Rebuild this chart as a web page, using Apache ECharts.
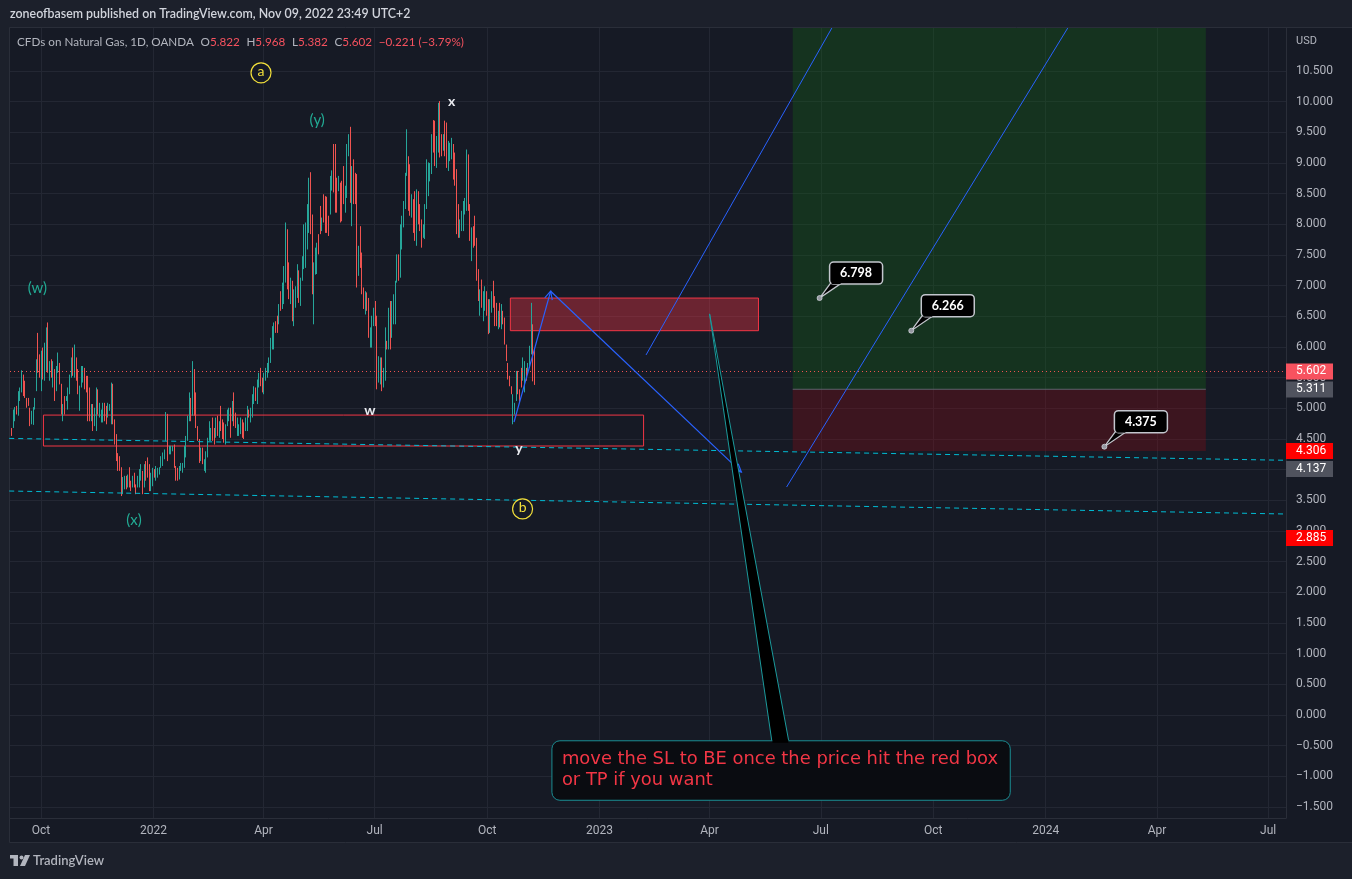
<!DOCTYPE html>
<html>
<head>
<meta charset="utf-8">
<script src="https://cdn.jsdelivr.net/npm/echarts@6.0.0/dist/echarts.min.js"></script>
<style>
html,body{margin:0;padding:0;background:#1c202b;}
#chart{width:1352px;height:879px;}
</style>
</head>
<body>
<div id="chart"></div>
<script>
// ---------- DATA ----------
// daily bars [open, close, low, high]
const ohlc = [
[4.66,4.57,4.55,4.68],[4.68,4.96,4.68,4.98],[4.82,4.98,4.79,5.02],[5.02,4.92,4.90,5.04],[4.90,5.25,4.88,5.28],
[5.15,5.30,5.12,5.34],[5.28,5.60,5.26,5.62],[5.53,5.22,5.20,5.55],[5.42,5.19,5.17,5.45],[5.15,5.03,5.01,5.17],
[5.15,5.06,5.04,5.17],[5.00,4.73,4.71,5.01],[4.76,4.94,4.74,4.96],[4.75,5.00,4.73,5.02],[4.99,5.15,4.98,5.17],
[5.28,5.78,5.28,5.80],[6.20,5.60,5.58,6.23],[5.86,5.52,5.50,5.88],[5.30,5.92,5.28,5.94],[5.97,5.49,5.47,5.99],
[5.47,6.05,5.45,6.07],[5.62,6.28,5.61,6.32],[6.38,5.60,5.58,6.40],[5.47,5.75,5.45,5.77],[5.78,5.52,5.50,5.80],
[5.36,5.75,5.34,5.77],[5.63,5.14,5.12,5.64],[5.30,5.67,5.28,5.69],[5.60,5.89,5.58,5.91],[5.72,5.41,5.39,5.74],
[5.39,4.92,4.90,5.40],[4.81,5.05,4.79,5.07],[5.19,4.92,4.90,5.20],[5.13,5.18,5.12,5.20],[5.00,5.32,4.98,5.34],
[5.25,5.53,5.23,5.55],[5.52,5.81,5.50,5.83],[5.97,5.55,5.53,5.99],[5.52,6.02,5.50,6.04],[5.81,5.47,5.45,5.83],
[5.62,5.25,5.23,5.64],[4.98,5.34,4.96,5.37],[5.36,5.67,5.34,5.69],[5.45,5.67,5.42,5.69],[5.64,5.33,5.31,5.66],
[5.51,5.27,5.26,5.53],[5.51,4.81,4.79,5.53],[5.32,4.81,4.79,5.34],[4.81,5.05,4.79,5.07],[5.05,4.65,4.63,5.07],
[4.73,4.99,4.71,5.01],[4.65,5.32,4.63,5.34],[5.30,4.92,4.90,5.31],[4.87,5.07,4.85,5.09],[4.79,4.96,4.77,4.98],
[4.79,5.07,4.77,5.09],[5.07,4.81,4.79,5.09],[5.02,4.76,4.74,5.04],[4.87,5.07,4.85,5.09],[4.97,5.05,4.96,5.07],
[4.76,5.40,4.74,5.42],[5.37,4.76,4.74,5.40],[4.80,4.43,4.41,4.82],[4.56,4.16,4.14,4.58],[4.25,4.00,3.98,4.27],
[4.20,4.00,3.98,4.22],[4.02,3.59,3.57,4.04],[3.62,3.86,3.60,3.88],[3.70,3.88,3.68,3.90],[3.88,3.70,3.68,3.90],
[3.73,3.90,3.71,3.92],[4.02,3.73,3.71,4.04],[3.81,3.67,3.65,3.82],[3.73,3.88,3.71,3.90],[3.93,3.73,3.71,3.95],
[3.75,3.62,3.60,3.76],[3.73,3.88,3.71,3.90],[3.74,3.99,3.71,4.01],[3.84,4.07,3.82,4.09],[3.97,3.62,3.60,3.98],
[3.74,4.07,3.71,4.09],[4.12,3.84,3.82,4.14],[4.18,3.89,3.87,4.20],[4.07,3.67,3.65,4.09],[3.67,3.93,3.65,3.95],
[3.75,4.01,3.73,4.03],[4.00,3.88,3.87,4.01],[3.84,4.04,3.82,4.06],[3.89,4.01,3.87,4.03],[3.93,4.02,3.92,4.04],
[4.04,4.20,4.03,4.22],[4.08,4.26,4.06,4.28],[4.18,4.31,4.17,4.33],[4.49,4.92,4.47,4.94],[4.89,4.16,4.14,4.91],
[4.26,4.37,4.25,4.39],[4.27,4.37,4.25,4.39],[4.31,4.37,4.30,4.39],[4.40,4.05,4.03,4.41],[4.05,3.84,3.82,4.06],
[4.02,3.84,3.82,4.03],[3.85,4.04,3.84,4.06],[4.00,4.09,3.98,4.11],[3.97,4.09,3.95,4.11],[4.04,4.37,4.03,4.39],
[4.22,4.53,4.20,4.55],[4.49,4.86,4.47,4.88],[4.81,5.24,4.79,5.26],[5.15,4.81,4.79,5.17],[4.90,5.75,4.88,5.77],
[5.62,4.90,4.88,5.64],[5.24,4.70,4.68,5.26],[4.70,4.49,4.47,4.71],[4.49,4.13,4.11,4.50],[4.15,4.34,4.14,4.36],
[4.34,4.10,4.09,4.36],[4.00,4.15,3.98,4.17],[3.97,4.28,3.95,4.30],[4.22,4.50,4.20,4.52],[4.49,4.77,4.47,4.79],
[4.50,4.66,4.47,4.68],[4.83,4.49,4.47,4.85],[4.66,4.43,4.41,4.68],[4.55,4.83,4.52,4.85],
[4.86,4.57,4.55,4.88],[4.55,4.77,4.52,4.79],[4.95,4.65,4.63,5.04],[4.80,4.52,4.50,4.82],[4.75,4.46,4.44,4.77],
[4.43,4.72,4.41,4.74],[4.72,4.96,4.71,4.98],[4.80,4.99,4.79,5.01],[4.99,4.54,4.52,5.01],[4.80,5.10,4.79,5.12],
[5.24,4.73,4.71,5.26],[4.91,4.70,4.68,4.93],[4.57,4.83,4.55,4.85],[4.57,4.72,4.55,4.74],[4.60,4.83,4.58,4.85],
[4.80,4.54,4.52,4.82],[4.75,4.52,4.50,4.77],[4.65,4.83,4.63,4.85],[4.65,5.02,4.63,5.04],[4.97,4.86,4.85,4.98],
[4.79,4.99,4.77,5.01],[4.86,5.21,4.85,5.23],[5.09,5.34,5.07,5.36],[5.32,5.14,5.12,5.34],[5.09,5.45,5.07,5.47],
[5.36,5.56,5.34,5.58],[5.64,5.38,5.36,5.66],[5.48,5.28,5.26,5.50],[5.25,5.56,5.23,5.58],[5.47,5.64,5.45,5.66],
[5.52,5.72,5.50,5.74],[5.60,5.81,5.58,5.83],[5.76,6.13,5.74,6.15],[5.98,6.32,5.96,6.34],[6.00,6.38,5.96,6.40],
[6.40,6.25,6.23,6.42],[6.48,6.25,6.23,6.51],[6.39,6.68,6.37,6.70],[6.89,6.61,6.59,6.91],[6.64,7.03,6.62,7.05],
[6.72,7.30,6.70,7.32],[7.07,8.00,7.05,8.03],[7.89,6.97,6.94,7.92],[7.35,6.80,6.78,7.38],[6.72,7.11,6.70,7.13],
[7.05,6.45,6.42,7.08],[6.37,6.91,6.34,6.94],[6.67,6.97,6.64,6.99],[6.83,7.33,6.80,7.35],[7.23,6.75,6.72,7.25],
[6.69,7.11,6.67,7.13],[7.10,7.46,7.08,7.48],[7.29,7.97,7.27,8.00],[7.35,8.00,7.29,8.03],[7.60,8.31,7.59,8.33],
[7.88,8.74,7.86,8.76],[8.82,7.86,7.84,8.85],[8.14,6.88,6.86,8.16],[6.40,7.35,6.37,7.38],[7.19,7.60,7.18,7.62],
[7.20,7.68,7.19,7.70],[7.82,7.53,7.51,7.84],[8.28,7.86,7.84,8.30],[7.90,8.09,7.89,8.11],[8.47,8.05,8.03,8.49],
[8.44,7.88,7.86,8.46],
[8.43,7.88,7.86,8.45],[8.12,7.83,7.81,8.14],[8.18,8.76,8.16,8.79],[8.57,8.86,8.55,8.88],[9.28,8.54,8.52,9.31],
[9.28,8.22,8.19,9.31],[8.74,8.21,8.19,8.76],[8.56,8.77,8.54,8.79],[8.66,8.05,8.03,8.68],[8.69,8.06,8.05,8.71],
[8.93,8.35,8.33,8.95],[8.21,8.61,8.19,8.63],[8.45,9.28,8.43,9.31],[9.13,9.45,9.11,9.47],[9.56,8.37,8.35,9.59],
[7.99,8.92,7.97,8.95],[9.03,8.35,8.33,9.06],[8.82,8.35,8.33,8.84],[8.79,6.99,6.97,8.82],[7.18,7.63,7.16,7.65],
[7.95,7.31,7.29,7.97],[7.52,6.88,6.86,7.54],[6.95,6.64,6.62,6.97],[6.55,6.89,6.53,6.91],[6.87,6.61,6.59,6.89],
[6.78,6.17,6.15,6.80],[6.01,6.30,5.99,6.32],[6.01,6.49,5.99,6.51],[6.36,6.62,6.34,6.64],[6.73,6.36,6.34,6.75],
[6.49,5.33,5.31,6.51],[5.44,5.83,5.42,5.85],[5.41,5.81,5.39,5.83],[5.81,5.30,5.28,5.83],[5.36,5.64,5.34,5.66],
[5.47,6.30,5.45,6.32],[6.09,5.97,5.96,6.10],[5.98,6.62,5.96,6.64],[6.73,5.98,5.96,6.75],[6.17,6.73,6.15,6.75],
[6.39,6.84,6.37,6.86],[6.39,7.05,6.37,7.08],[7.06,7.49,7.05,7.51],[7.49,7.09,7.08,7.51],[7.15,7.97,7.13,8.00],
[7.62,8.11,7.59,8.14],[7.97,8.36,7.95,8.38],[8.27,8.82,8.25,8.84],[8.81,9.52,8.79,9.55],[9.09,8.24,8.22,9.11],
[8.96,8.16,8.14,8.98],[8.13,8.47,8.11,8.49],[8.40,7.88,7.86,8.41],[8.52,7.75,7.73,8.54],[7.67,8.55,7.65,8.57],
[8.52,8.02,8.00,8.54],[8.31,7.91,7.89,8.33],[8.06,7.64,7.62,8.08],[7.80,7.99,7.78,8.00],
[7.77,8.31,7.76,8.33],[8.27,9.04,8.25,9.06],[8.47,8.99,8.46,9.01],[8.72,8.98,8.70,9.00],[8.84,9.45,8.82,9.47],
[9.68,9.19,9.17,9.70],[9.66,8.97,8.95,9.69],[8.94,9.42,8.92,9.44],[9.19,9.95,9.17,9.98],[9.98,9.11,9.09,10.01],
[9.45,9.13,9.11,9.47],[9.22,9.45,9.20,9.47],[9.66,9.13,9.11,9.69],[9.64,8.94,8.92,9.66],[8.89,9.34,8.87,9.36],
[9.05,9.31,9.03,9.33],[9.08,9.39,9.06,9.41],[9.29,8.75,8.73,9.31],[9.15,8.65,8.63,9.17],[8.88,7.86,7.84,8.90],
[8.31,7.80,7.78,8.33],[7.80,8.06,7.78,8.08],[7.91,8.20,7.89,8.22],[7.91,8.36,7.89,8.38],[8.18,8.41,8.16,8.43],
[8.24,9.20,8.22,9.22],[9.12,8.24,8.22,9.14],[8.31,7.75,7.73,8.33],[7.42,7.92,7.40,7.95],[7.95,7.64,7.62,7.97],
[8.12,7.67,7.65,8.14],[7.76,7.10,7.08,7.78],[7.25,6.77,6.75,7.27],[6.53,6.92,6.51,6.94],[7.08,6.66,6.64,7.10],
[6.44,6.89,6.42,6.91],[6.61,6.97,6.59,6.99],[6.89,6.53,6.51,6.91],[6.76,6.23,6.21,6.78],[6.25,6.76,6.23,6.78],
[6.57,6.89,6.56,6.91],[7.06,6.66,6.64,7.08],[6.81,6.36,6.34,6.83],[6.70,6.36,6.34,6.72],[6.31,6.57,6.29,6.59],
[6.70,6.33,6.32,6.72],[6.31,6.68,6.29,6.70],[6.57,6.39,6.37,6.59],[6.46,6.06,6.04,6.48],[6.03,5.79,5.77,6.04],
[5.73,5.49,5.47,5.74],[5.52,5.38,5.36,5.53],[5.35,5.25,5.23,5.36],[4.76,5.20,4.74,5.23],[4.92,5.08,4.90,5.09],
[5.14,5.59,5.12,5.61],[5.59,5.25,5.23,5.61],[5.30,5.11,5.09,5.31],[5.64,5.36,5.34,5.66],[5.47,5.81,5.45,5.83],
[5.28,5.75,5.26,5.77],[5.64,5.47,5.45,5.66],[5.57,5.72,5.55,5.74],[5.68,5.99,5.66,6.02],[5.90,6.70,5.88,6.72],
[6.30,5.82,5.44,6.37],[5.822,5.602,5.382,5.968]
];
const firstBarDate = '2021-09-07';
const lastBarDate = '2022-11-09';
const lastQuote = [5.822, 5.968, 5.382, 5.602];     // O H L C
const lastChange = [-0.221, -3.79];                 // abs, %

const priceTicks = [-1.5,-1,-0.5,0,0.5,1,1.5,2,2.5,3,3.5,4,4.5,5,5.5,6,6.5,7,7.5,8,8.5,9,9.5,10,10.5];
const quarterDates = ['2021-10-01','2022-01-01','2022-04-01','2022-07-01','2022-10-01','2023-01-01','2023-04-01','2023-07-01','2023-10-01','2024-01-01','2024-04-01','2024-07-01'];
const quarterNames = ['Oct','2022','Apr','Jul','Oct','2023','Apr','Jul','Oct','2024','Apr','Jul'];
const xRange = ['2021-09-05T15:20:00Z', '2024-07-15T14:00:00Z'];
const yRange = [-1.679, 11.201];

const redZone = ['2022-10-20', 6.266, '2023-05-11', 6.798];
const supportZone = ['2021-10-03', 4.386, '2023-02-06', 4.89];
const longDates = ['2023-06-08', '2024-05-11'];
const longPrices = [4.306, 5.311, 11.6];            // stop, entry, target
const channelLines = [['2021-09-05', 4.51, '2024-07-16', 4.153], ['2021-09-05', 3.652, '2024-07-16', 3.277]];
const blueRays = [['2023-02-08', 5.87, '2023-07-10', 11.2], ['2023-06-03', 3.717, '2024-01-19', 11.2]];
const wavePath = [['2022-10-23', 4.777], ['2022-11-22', 6.91], ['2023-04-27', 3.96]];
const priceNotes = [['2023-06-30', 6.798], ['2023-09-13', 6.266], ['2024-02-18', 4.375]];
const waveLabels = ['(w)','(x)','(y)','a','x','w','y','b'];
const wavePoints = [['2021-09-28',6.96],['2021-12-16',3.18],['2022-05-15',9.70],['2022-03-30',10.47],['2022-09-02',10.01],['2022-06-27',4.97],['2022-10-27',4.34],['2022-10-30',3.36]];
const calloutTip = ['2023-04-01', 6.54];
const calloutBox = ['2022-11-23', -0.42, '2023-12-03', -1.39];
const calloutText = ['move the SL to BE once the price hit the red box', 'or TP if you want'];
const axisTagValues = [5.602, 5.311, 4.306, 4.137, 2.885];

// ---------- STYLE ----------
const waveKinds = ['paren','paren','paren','circle','plain','plain','plain','circle'];
const tagColors = ['#f7525f','#50535e','#ff0000','#50535e','#ff0000'];
const UP = '#26a69a', DOWN = '#ef5350', BLUE = '#2962ff';
const FONT = 'Lato, "Open Sans", sans-serif';

function ts(s) { return Date.parse(s.length <= 10 ? s + 'T00:00:00Z' : s); }
const t0 = ts(firstBarDate), t1 = ts(lastBarDate);
const stepMs = (t1 - t0) / (ohlc.length - 1);
const candleData = ohlc.map((r, i) => [t0 + i * stepMs, r[0], r[1], r[2], r[3]]);
const quarterTs = quarterDates.map(ts);
const fmtPrice = v => (v < 0 ? '\u2212' : '') + Math.abs(v).toFixed(3);

function clipRect(a, b, cs) {
  return echarts.graphic.clipRectByRect(
    {x: Math.min(a[0], b[0]), y: Math.min(a[1], b[1]), width: Math.abs(b[0] - a[0]), height: Math.abs(b[1] - a[1])},
    {x: cs.x, y: cs.y, width: cs.width, height: cs.height});
}

const zoneRows = [
  [ts(redZone[0]), redZone[1], ts(redZone[2]), redZone[3]],
  [ts(supportZone[0]), supportZone[1], ts(supportZone[2]), supportZone[3]],
  [ts(longDates[0]), longPrices[1], ts(longDates[1]), longPrices[2]],
  [ts(longDates[0]), longPrices[0], ts(longDates[1]), longPrices[1]]
];
const zoneStyles = [
  {fill: 'rgba(242,54,69,0.39)', stroke: '#f23645', lineWidth: 1},
  {fill: 'rgba(0,0,0,0)', stroke: '#f23645', lineWidth: 1},
  {fill: 'rgba(20,110,20,0.30)', stroke: null, lineWidth: 0},
  {fill: 'rgba(150,10,20,0.30)', stroke: null, lineWidth: 0}
];

function lineSeries(row, style) {
  return {type: 'line', data: [[ts(row[0]), row[1]], [ts(row[2]), row[3]]], symbol: 'none', silent: true,
    clip: true, z: 4, lineStyle: style, animation: false};
}

const arrowRows = [];
for (let i = 0; i < wavePath.length - 1; i++) {
  arrowRows.push([ts(wavePath[i][0]), wavePath[i][1], ts(wavePath[i + 1][0]), wavePath[i + 1][1]]);
}

const chart = echarts.init(document.getElementById('chart'), null, {renderer: 'canvas'});

const option = {
  backgroundColor: '#1c202b',
  animation: false,
  grid: {left: 10, right: 66, top: 28, bottom: 61, show: false, outerBoundsMode: 'none'},
  xAxis: {
    type: 'value', min: ts(xRange[0]), max: ts(xRange[1]),
    axisLine: {show: true, onZero: false, lineStyle: {color: '#2a2e39'}},
    axisTick: {show: false, customValues: quarterTs},
    axisLabel: {customValues: quarterTs, color: '#b2b5be', fontSize: 12, fontFamily: 'Roboto', margin: 7,
      formatter: v => { let k = 0, d = Infinity; quarterTs.forEach((q, i) => { if (Math.abs(q - v) < d) { d = Math.abs(q - v); k = i; } }); return quarterNames[k]; }},
    splitLine: {show: true, lineStyle: {color: '#232733', width: 1}}
  },
  yAxis: {
    type: 'value', position: 'right', min: yRange[0], max: yRange[1],
    axisLine: {show: true, onZero: false, lineStyle: {color: '#2a2e39'}},
    axisTick: {show: false, customValues: priceTicks},
    axisLabel: {customValues: priceTicks, color: '#b2b5be', fontSize: 12, fontFamily: 'Roboto', margin: 10, formatter: fmtPrice},
    splitLine: {show: true, lineStyle: {color: '#232733', width: 1}}
  },
  graphic: [
    {type: 'rect', z: -10, silent: true, shape: {x: 9.5, y: 27.5, width: 1343, height: 815}, style: {fill: '#161a25', stroke: '#2a2e39', lineWidth: 1}},
    {type: 'text', x: 10, y: 14, silent: true, style: {text: 'zoneofbasem published on TradingView.com, Nov 09, 2022 23:49 UTC+2', fill: '#d1d4dc', fontSize: 12.4, fontFamily: FONT, fontWeight: 600, verticalAlign: 'middle'}},
    {type: 'text', x: 17, y: 42, silent: true, z: 50, style: {
      text: '{n|CFDs on Natural Gas, 1D, OANDA}  {n|O}{v|' + lastQuote[0].toFixed(3) + '}  {n|H}{v|' + lastQuote[1].toFixed(3) + '}  {n|L}{v|' + lastQuote[2].toFixed(3) + '}  {n|C}{v|' + lastQuote[3].toFixed(3) + '}  {v|' + fmtPrice(lastChange[0]) + ' (' + fmtPrice(lastChange[1]).replace(/0$/, '') + '%)}',
      verticalAlign: 'middle',
      rich: {n: {fill: '#b2b5be', fontSize: 11.7, fontFamily: FONT}, v: {fill: '#f7525f', fontSize: 11.7, fontFamily: FONT}}}},
    {type: 'text', x: 1296, y: 41, silent: true, style: {text: 'USD', fill: '#b2b5be', fontSize: 11, fontFamily: 'Roboto', verticalAlign: 'middle'}},
    {type: 'group', silent: true, children: [
      {type: 'rect', shape: {x: 10, y: 855, width: 8, height: 3.5}, style: {fill: '#b2b5be'}},
      {type: 'rect', shape: {x: 13.5, y: 855, width: 4.5, height: 11}, style: {fill: '#b2b5be'}},
      {type: 'circle', shape: {cx: 21.5, cy: 857.5, r: 2}, style: {fill: '#b2b5be'}},
      {type: 'polygon', shape: {points: [[20, 866], [25, 855], [30, 855], [25, 866]]}, style: {fill: '#b2b5be'}},
      {type: 'text', x: 33, y: 861, style: {text: 'TradingView', fill: '#b2b5be', fontSize: 13, fontFamily: FONT, fontWeight: 600, verticalAlign: 'middle'}}
    ]}
  ],
  series: [
    {
      type: 'custom', name: 'zones', clip: true, z: 1, silent: true,
      data: zoneRows, encode: {x: [0, 2], y: [1, 3]},
      renderItem: (params, api) => {
        const a = api.coord([api.value(0), api.value(1)]), b = api.coord([api.value(2), api.value(3)]);
        const r = clipRect(a, b, params.coordSys);
        if (!r) return null;
        const s = zoneStyles[params.dataIndex];
        return {type: 'rect', shape: r, style: {fill: s.fill, stroke: s.stroke, lineWidth: s.lineWidth}};
      }
    },
    lineSeries([longDates[0], longPrices[1], longDates[1], longPrices[1]], {color: '#5d606b', width: 1}),
    lineSeries(channelLines[0], {color: '#00bcd4', width: 1, type: [5, 4]}),
    lineSeries(channelLines[1], {color: '#00bcd4', width: 1, type: [5, 4]}),
    lineSeries(blueRays[0], {color: BLUE, width: 1}),
    lineSeries(blueRays[1], {color: BLUE, width: 1}),
    {
      type: 'candlestick', name: 'NATGAS', data: candleData, barWidth: 1, z: 3, silent: true,
      itemStyle: {color: UP, color0: DOWN, borderColor: UP, borderColor0: DOWN, borderWidth: 1},
      markLine: {symbol: 'none', silent: true, label: {show: false},
        lineStyle: {color: DOWN, type: [1, 3], width: 1}, data: [{yAxis: lastQuote[3]}]}
    },
    {
      type: 'custom', name: 'arrows', clip: true, z: 5, silent: true,
      data: arrowRows, encode: {x: [0, 2], y: [1, 3]},
      renderItem: (params, api) => {
        const a = api.coord([api.value(0), api.value(1)]), b = api.coord([api.value(2), api.value(3)]);
        const ang = Math.atan2(b[1] - a[1], b[0] - a[0]), L = 9, sp = 0.45;
        const p1 = [b[0] - L * Math.cos(ang - sp), b[1] - L * Math.sin(ang - sp)];
        const p2 = [b[0] - L * Math.cos(ang + sp), b[1] - L * Math.sin(ang + sp)];
        return {type: 'group', children: [
          {type: 'line', shape: {x1: a[0], y1: a[1], x2: b[0], y2: b[1]}, style: {stroke: BLUE, lineWidth: 1.2}},
          {type: 'polyline', shape: {points: [p1, b, p2]}, style: {stroke: BLUE, lineWidth: 1.2, fill: null}}
        ]};
      }
    },
    {
      type: 'custom', name: 'waves', clip: false, z: 6, silent: true,
      data: wavePoints.map(p => [ts(p[0]), p[1]]),
      renderItem: (params, api) => {
        const c = api.coord([api.value(0), api.value(1)]);
        const i = params.dataIndex, kind = waveKinds[i], txt = waveLabels[i];
        if (kind === 'circle') {
          return {type: 'group', children: [
            {type: 'circle', shape: {cx: c[0], cy: c[1], r: 10}, style: {fill: '#161a25', stroke: '#f2df3a', lineWidth: 1.2}},
            {type: 'text', x: c[0], y: c[1] - 1, style: {text: txt, fill: '#f2df3a', fontSize: 14, fontFamily: FONT, align: 'center', verticalAlign: 'middle'}}
          ]};
        }
        if (kind === 'paren') {
          return {type: 'text', x: c[0], y: c[1], style: {text: txt, fill: '#22ab94', fontSize: 15, fontFamily: FONT, align: 'center', verticalAlign: 'middle'}};
        }
        return {type: 'text', x: c[0], y: c[1], style: {text: txt, fill: '#e8eaef', fontSize: 14, fontWeight: 'bold', fontFamily: FONT, align: 'center', verticalAlign: 'middle'}};
      }
    },
    {
      type: 'custom', name: 'notes', clip: false, z: 7, silent: true,
      data: priceNotes.map(p => [ts(p[0]), p[1]]),
      renderItem: (params, api) => {
        const c = api.coord([api.value(0), api.value(1)]);
        const x = c[0], y = c[1];
        return {type: 'group', children: [
          {type: 'polygon', shape: {points: [[x, y], [x + 11, y - 15], [x + 22, y - 15]]}, style: {fill: '#000', stroke: '#c3c6cd', lineWidth: 1.3}},
          {type: 'rect', shape: {x: x + 10, y: y - 36, width: 53, height: 22, r: 4}, style: {fill: '#000', stroke: '#c3c6cd', lineWidth: 1.5}},
          {type: 'rect', shape: {x: x + 12, y: y - 16, width: 9, height: 2}, style: {fill: '#000'}},
          {type: 'text', x: x + 36.5, y: y - 25, style: {text: api.value(1).toFixed(3), fill: '#ffffff', fontSize: 12.5, fontWeight: 'bold', fontFamily: FONT, align: 'center', verticalAlign: 'middle'}},
          {type: 'circle', shape: {cx: x, cy: y, r: 2.5}, style: {fill: '#9598a1', stroke: '#d1d4dc', lineWidth: 0.8}}
        ]};
      }
    },
    {
      type: 'custom', name: 'callout', clip: false, z: 8, silent: true,
      data: [[ts(calloutTip[0]), calloutTip[1], ts(calloutBox[0]), calloutBox[1], ts(calloutBox[2]), calloutBox[3]]],
      renderItem: (params, api) => {
        const tip = api.coord([api.value(0), api.value(1)]);
        const a = api.coord([api.value(2), api.value(3)]), b = api.coord([api.value(4), api.value(5)]);
        const w = b[0] - a[0], h = b[1] - a[1];
        const bl = a[0] + 0.48 * w, br = a[0] + 0.517 * w;
        return {type: 'group', children: [
          {type: 'polygon', shape: {points: [tip, [bl, a[1] + 1], [br, a[1] + 1]]}, style: {fill: '#000', stroke: '#1b9a9c', lineWidth: 1}},
          {type: 'rect', shape: {x: a[0], y: a[1], width: w, height: h, r: 8}, style: {fill: '#0a0c11', stroke: '#1b8d92', lineWidth: 1}},
          {type: 'rect', shape: {x: bl + 0.5, y: a[1] - 1, width: br - bl - 1, height: 3}, style: {fill: '#000'}},
          {type: 'text', x: a[0] + 10, y: a[1] + 19, style: {text: calloutText[0], fill: '#f23645', fontSize: 17.9, fontFamily: '"DejaVu Sans", sans-serif', verticalAlign: 'middle'}},
          {type: 'text', x: a[0] + 10, y: a[1] + 40, style: {text: calloutText[1], fill: '#f23645', fontSize: 17.9, fontFamily: '"DejaVu Sans", sans-serif', verticalAlign: 'middle'}}
        ]};
      }
    },
    {
      type: 'custom', name: 'tags', clip: false, z: 20, silent: true,
      data: [[ts(xRange[0]), axisTagValues[0]]],
      renderItem: (params, api) => {
        const cs = params.coordSys, x0 = cs.x + cs.width;
        let last = -Infinity; const kids = [];
        axisTagValues.forEach((v, i) => {
          let y = api.coord([ts(xRange[0]), v])[1];
          if (y < last + 18) y = last + 18;
          last = y;
          kids.push({type: 'rect', shape: {x: x0, y: y - 8, width: 47, height: 16}, style: {fill: tagColors[i]}});
          kids.push({type: 'text', x: x0 + 10, y: y, style: {text: v.toFixed(3), fill: '#ffffff', fontSize: 12, fontFamily: 'Roboto', verticalAlign: 'middle'}});
        });
        return {type: 'group', children: kids};
      }
    }
  ]
};
chart.setOption(option);
</script>
</body>
</html>
